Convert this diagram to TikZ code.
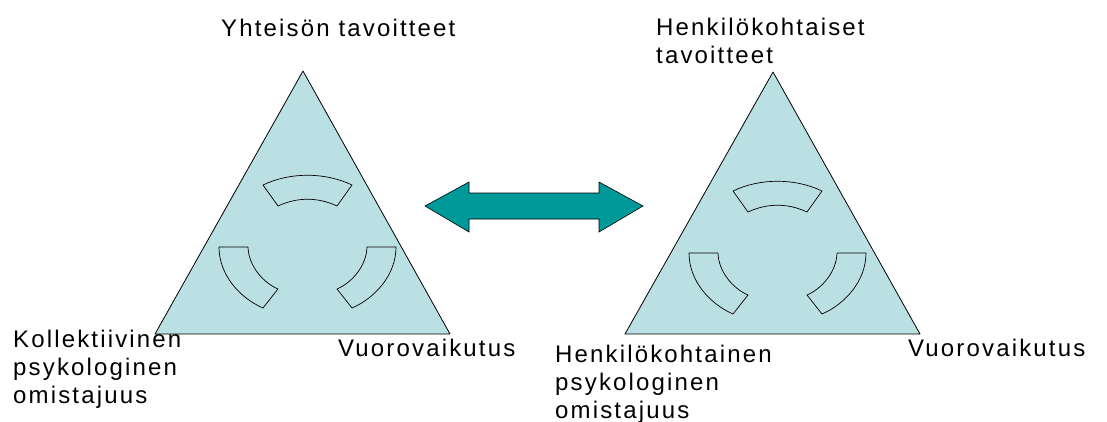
\documentclass[tikz,border=0pt]{standalone}
\usepackage{fontspec}
\setmainfont{Liberation Sans}[LetterSpace=9]
\definecolor{trifill}{RGB}{187,224,227}
\definecolor{arrowteal}{RGB}{0,153,153}
\begin{document}
\begin{tikzpicture}[x=1pt,y=-1pt,
  tri/.style={fill=trifill,draw=black,line width=0.8pt,line join=round},
  seg/.style={fill=trifill,draw=black,line width=0.7pt,line join=round},
  dblarrow/.style={fill=arrowteal,draw=black,line width=0.6pt,line join=miter},
  lbl/.style={font=\fontsize{24}{28}\selectfont,inner sep=0pt,align=left},
  rings/.pic={
    \draw[seg] (263,185) .. controls (290,172) and (325,172) .. (352,185)
      -- (337,206) .. controls (318,197) and (297,197) .. (278,206) -- cycle;
    \draw[seg] (219,247) -- (248,247) .. controls (248.5,265) and (262,282) .. (278,289)
      -- (263,308) .. controls (240,298) and (219,275) .. cycle;
    \draw[seg] (367,247) -- (396,247) .. controls (396,275) and (375,298) .. (352,308)
      -- (337,289) .. controls (353,282) and (366.5,265) .. cycle;
  }]
\useasboundingbox (0,0) rectangle (1107,421);

% left triangle
\draw[tri] (303,71) -- (450,334) -- (155,334) -- cycle;
\pic at (0,0) {rings};

% right triangle
\draw[tri] (773,72) -- (920,334) -- (625,334) -- cycle;
\pic at (470,6) {rings};

% double arrow
\draw[dblarrow] (425,206) -- (469,182) -- (469,193) -- (599,193) -- (599,182)
  -- (643,206) -- (599,232) -- (599,219) -- (469,219) -- (469,232) -- cycle;

% labels
\node[lbl,anchor=base west] (goalL) at (221,36) {Yhteisön tavoitteet};
\node[lbl,anchor=north west] (goalR) at (656,18) {Henkilökohtaiset\\tavoitteet};
\node[lbl,anchor=north west] (ownL) at (13,329.5) {Kollektiivinen\\psykologinen\\omistajuus};
\node[lbl,anchor=north west] (ownR) at (555,344.5) {Henkilökohtainen\\psykologinen\\omistajuus};
\node[lbl,anchor=base west] (interL) at (338,356) {Vuorovaikutus};
\node[lbl,anchor=base west] (interR) at (908,356) {Vuorovaikutus};
\end{tikzpicture}
\end{document}
